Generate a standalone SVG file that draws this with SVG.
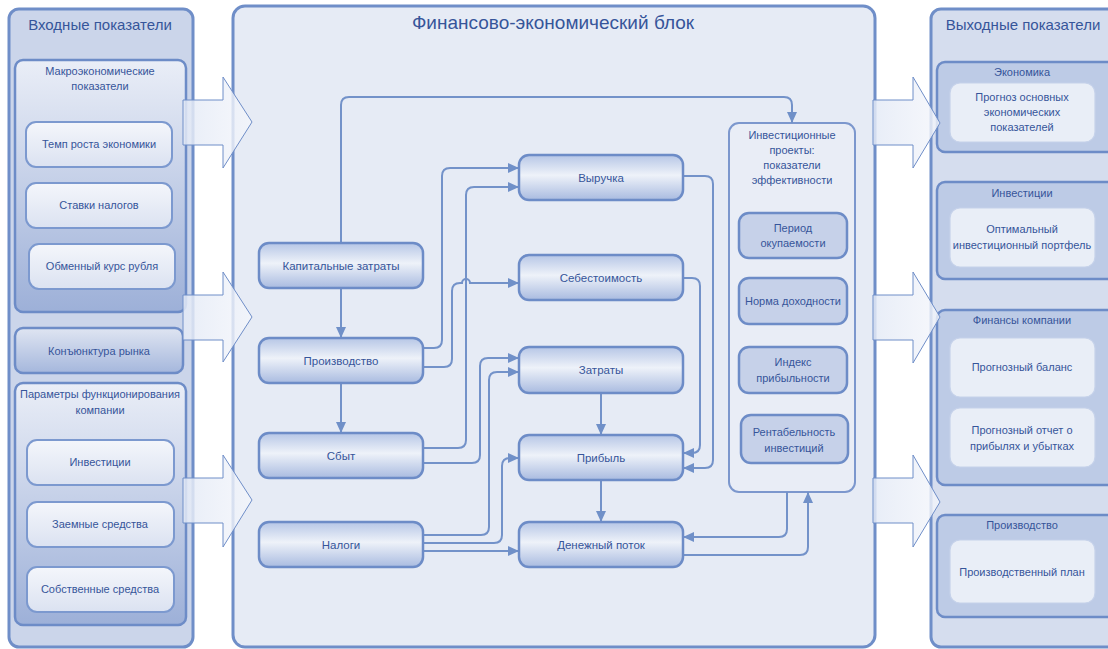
<svg xmlns="http://www.w3.org/2000/svg" width="1108" height="649" viewBox="0 0 1108 649">
<defs>
<linearGradient id="gNode" x1="0" y1="0" x2="0" y2="1">
<stop offset="0" stop-color="#b6c6e6"/><stop offset="0.45" stop-color="#eef2f9"/><stop offset="1" stop-color="#a9bbe0"/>
</linearGradient>
<linearGradient id="gGroup" x1="0" y1="0" x2="0" y2="1">
<stop offset="0" stop-color="#eaeef7"/><stop offset="1" stop-color="#9db0d8"/>
</linearGradient>
<linearGradient id="gInner" x1="0" y1="0" x2="0" y2="1">
<stop offset="0" stop-color="#f4f6fb"/><stop offset="1" stop-color="#dbe2f1"/>
</linearGradient>
<linearGradient id="gKon" x1="0" y1="0" x2="0" y2="1">
<stop offset="0" stop-color="#dfe5f2"/><stop offset="1" stop-color="#a5b7dc"/>
</linearGradient>
<linearGradient id="gArrow" x1="0" y1="0" x2="1" y2="0">
<stop offset="0" stop-color="#e4eaf6" stop-opacity="0.85"/><stop offset="1" stop-color="#f4f6fb" stop-opacity="0.8"/>
</linearGradient>
<marker id="ah" markerUnits="userSpaceOnUse" markerWidth="11" markerHeight="10" refX="11" refY="5" orient="auto">
<path d="M0,0 L11,5 L0,10 z" fill="#7090c8"/>
</marker>
</defs>
<style>
text{font-family:"Liberation Sans",Arial,sans-serif;fill:#36559a;text-anchor:middle}
.t11{font-size:11px}
.t12{font-size:11.5px}
.ttl{font-size:15px}
.panel{stroke:#6f8ec8;stroke-width:3}
.node{fill:url(#gNode);stroke:#6d8cc7;stroke-width:2.5}
.inner{fill:url(#gInner);stroke:#7c99cf;stroke-width:2}
.grp{fill:url(#gGroup);stroke:#6d8cc7;stroke-width:2.5}
.rgrp{fill:#bdcbe6;stroke:#6d8cc7;stroke-width:2.5}
.rin{fill:#e9eef7;stroke:#c6d2ea;stroke-width:1.2}
.inv{fill:#c6d1e9;stroke:#6d8cc7;stroke-width:2.5}
.conn path{fill:none;stroke:#7392c9;stroke-width:2;marker-end:url(#ah)}
.barrow{fill:url(#gArrow);stroke:#6f8ec8;stroke-width:1}
</style>

<g id="left-panel">
<rect x="9" y="9" width="184" height="638" rx="10" fill="#cbd5ea" class="panel"/>
<text x="100" y="30" class="ttl">Входные показатели</text>
</g>
<g id="macro">
<rect x="15" y="60" width="171" height="252" rx="8" class="grp"/>
<text x="100" y="75" class="t11">Макроэкономические</text>
<text x="100" y="90" class="t11">показатели</text>
</g>
<g id="temp"><rect x="26" y="122" width="146" height="45" rx="10" class="inner"/><text x="99" y="148" class="t11">Темп роста экономики</text></g>
<g id="stavki"><rect x="26" y="183" width="146" height="45" rx="10" class="inner"/><text x="99" y="209" class="t11">Ставки налогов</text></g>
<g id="kurs"><rect x="29" y="244" width="146" height="45" rx="10" class="inner"/><text x="102" y="270" class="t11">Обменный курс рубля</text></g>
<g id="konjunktura"><rect x="15" y="328" width="168" height="45" rx="8" fill="url(#gKon)" stroke="#6d8cc7" stroke-width="2.5"/><text x="99" y="355" class="t11">Конъюнктура рынка</text></g>
<g id="params">
<rect x="15" y="383" width="171" height="242" rx="8" class="grp"/>
<text x="100" y="398" class="t11">Параметры функционирования</text>
<text x="100" y="414" class="t11">компании</text>
</g>
<g id="invest-in"><rect x="27" y="440" width="147" height="45" rx="10" class="inner"/><text x="100" y="466" class="t11">Инвестиции</text></g>
<g id="zaem"><rect x="27" y="502" width="147" height="45" rx="10" class="inner"/><text x="100" y="528" class="t11">Заемные средства</text></g>
<g id="sobstv"><rect x="27" y="567" width="147" height="45" rx="10" class="inner"/><text x="100" y="593" class="t11">Собственные средства</text></g>

<g id="center-panel">
<rect x="233" y="6" width="642" height="641" rx="12" fill="#e6ebf5" class="panel"/>
<text x="553" y="29" style="font-size:19px">Финансово-экономический блок</text>
</g>

<g id="right-panel">
<rect x="931" y="9" width="190" height="638" rx="10" fill="#d5ddee" class="panel"/>
<text x="1023" y="30" class="ttl">Выходные показатели</text>
</g>
<g id="ekonomika">
<rect x="937" y="62" width="180" height="90" rx="8" class="rgrp"/>
<text x="1022" y="76" class="t11">Экономика</text>
<rect x="950" y="83" width="145" height="59" rx="10" class="rin"/>
<text x="1022" y="101" class="t11">Прогноз основных</text>
<text x="1022" y="116" class="t11">экономических</text>
<text x="1022" y="131" class="t11">показателей</text>
</g>
<g id="investicii-out">
<rect x="937" y="182" width="180" height="97" rx="8" class="rgrp"/>
<text x="1022" y="197" class="t11">Инвестиции</text>
<rect x="950" y="208" width="145" height="59" rx="10" class="rin"/>
<text x="1022" y="233" class="t11">Оптимальный</text>
<text x="1022" y="249" class="t11">инвестиционный портфель</text>
</g>
<g id="finansy">
<rect x="937" y="310" width="180" height="175" rx="8" class="rgrp"/>
<text x="1022" y="324" class="t11">Финансы компании</text>
<rect x="950" y="338" width="145" height="59" rx="10" class="rin"/>
<text x="1022" y="371" class="t11">Прогнозный баланс</text>
<rect x="950" y="408" width="145" height="59" rx="10" class="rin"/>
<text x="1022" y="434" class="t11">Прогнозный отчет о</text>
<text x="1022" y="450" class="t11">прибылях и убытках</text>
</g>
<g id="proizvodstvo-out">
<rect x="937" y="515" width="180" height="102" rx="8" class="rgrp"/>
<text x="1022" y="529" class="t11">Производство</text>
<rect x="950" y="540" width="145" height="63" rx="10" class="rin"/>
<text x="1022" y="576" class="t11">Производственный план</text>
</g>

<g id="block-arrows">
<path class="barrow" d="M183,100 H223 V77 L252,122 L223,168 V145 H183 Z"/>
<path class="barrow" d="M183,295 H223 V272 L252,317 L223,362 V340 H183 Z"/>
<path class="barrow" d="M183,478 H223 V455 L252,500 L223,547 V523 H183 Z"/>
<path class="barrow" d="M873,100 H913 V77 L940,123 L913,168 V145 H873 Z"/>
<path class="barrow" d="M873,295 H913 V272 L940,317 L913,363 V340 H873 Z"/>
<path class="barrow" d="M873,478 H913 V455 L940,502 L913,547 V523 H873 Z"/>
</g>

<g id="inv-projects">
<rect x="729" y="123" width="126" height="369" rx="10" fill="#e9edf6" stroke="#7c97cd" stroke-width="2"/>
<text x="792" y="139" class="t11">Инвестиционные</text>
<text x="792" y="154" class="t11">проекты:</text>
<text x="792" y="169" class="t11">показатели</text>
<text x="792" y="184" class="t11">эффективности</text>
</g>
<g id="period"><rect x="739" y="213" width="108" height="45" rx="10" class="inv"/><text x="793" y="232" class="t11">Период</text><text x="793" y="247" class="t11">окупаемости</text></g>
<g id="norma"><rect x="739" y="278" width="108" height="46" rx="10" class="inv"/><text x="793" y="305" class="t11">Норма доходности</text></g>
<g id="indeks"><rect x="739" y="347" width="108" height="46" rx="10" class="inv"/><text x="793" y="366" class="t11">Индекс</text><text x="793" y="382" class="t11">прибыльности</text></g>
<g id="rentab"><rect x="741" y="415" width="107" height="48" rx="10" class="inv"/><text x="794" y="436" class="t11">Рентабельность</text><text x="794" y="452" class="t11">инвестиций</text></g>

<g id="connectors" class="conn">
<path d="M341,243 V105 Q341,97 349,97 H784 Q792,97 792,105 V123"/>
<path d="M341,288 V338"/>
<path d="M341,383 V433"/>
<path d="M423,348 H434 Q442,348 442,340 V176 Q442,168 450,168 H519"/>
<path d="M423,367 H444 Q452,367 452,359 V291 Q452,283 460,283 H462 A4,4 0 0 1 470,283 H519"/>
<path d="M423,448 H458 Q466,448 466,440 V195 Q466,187 474,187 H519"/>
<path d="M423,463 H472 Q480,463 480,455 V366 Q480,358 488,358 H519"/>
<path d="M423,535 H481 Q489,535 489,527 V380 Q489,372 497,372 H519"/>
<path d="M423,543 H494 Q502,543 502,535 V466 Q502,458 510,458 H519"/>
<path d="M423,551 H519"/>
<path d="M683,176 H705 Q713,176 713,184 V460 Q713,468 705,468 H683"/>
<path d="M683,278 H692 Q700,278 700,286 V445 Q700,453 692,453 H683"/>
<path d="M601,393 V435"/>
<path d="M601,480 V522"/>
<path d="M787,492 V529 Q787,537 779,537 H683"/>
<path d="M683,555 H800 Q808,555 808,547 V492"/>
</g>

<g id="kapzatraty"><rect x="259" y="243" width="164" height="45" rx="10" class="node"/><text x="341" y="270" class="t12">Капитальные затраты</text></g>
<g id="proizvodstvo"><rect x="259" y="338" width="164" height="45" rx="10" class="node"/><text x="341" y="365" class="t12">Производство</text></g>
<g id="sbyt"><rect x="259" y="433" width="164" height="45" rx="10" class="node"/><text x="341" y="460" class="t12">Сбыт</text></g>
<g id="nalogi"><rect x="259" y="522" width="164" height="45" rx="10" class="node"/><text x="341" y="549" class="t12">Налоги</text></g>
<g id="vyruchka"><rect x="519" y="155" width="164" height="45" rx="10" class="node"/><text x="601" y="182" class="t12">Выручка</text></g>
<g id="sebestoimost"><rect x="519" y="255" width="164" height="45" rx="10" class="node"/><text x="601" y="282" class="t12">Себестоимость</text></g>
<g id="zatraty"><rect x="519" y="347" width="164" height="46" rx="10" class="node"/><text x="601" y="374" class="t12">Затраты</text></g>
<g id="pribyl"><rect x="519" y="435" width="164" height="45" rx="10" class="node"/><text x="601" y="462" class="t12">Прибыль</text></g>
<g id="denpotok"><rect x="519" y="522" width="164" height="45" rx="10" class="node"/><text x="601" y="549" class="t12">Денежный поток</text></g>
</svg>
